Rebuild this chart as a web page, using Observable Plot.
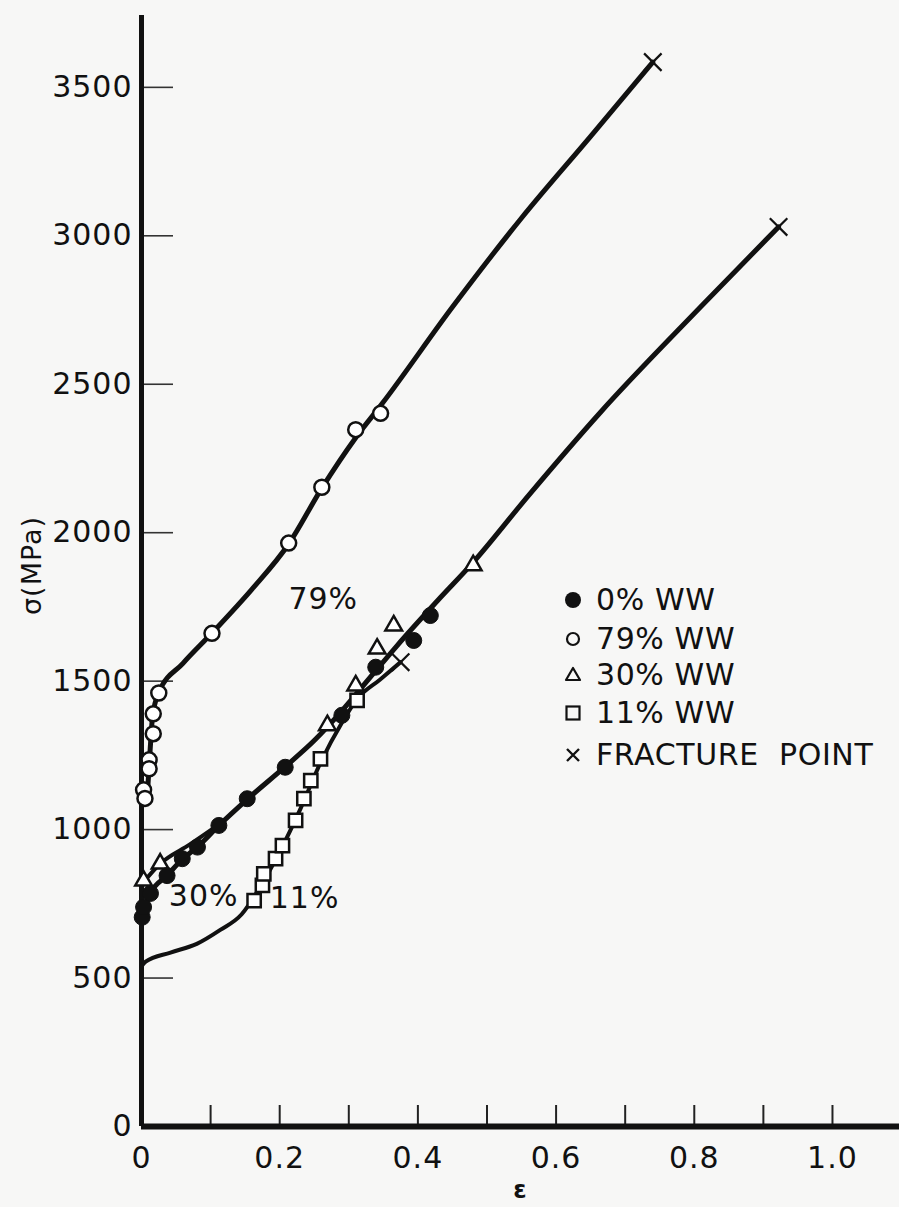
<!DOCTYPE html>
<html>
<head>
<meta charset="utf-8">
<script src="https://cdn.jsdelivr.net/npm/d3@7"></script>
<script src="https://cdn.jsdelivr.net/npm/@observablehq/plot@0.6"></script>
<style>
  html, body { margin: 0; padding: 0; background: #f7f7f6; }
  #wrap { position: relative; width: 899px; height: 1207px; overflow: hidden;
          font-family: "DejaVu Sans", sans-serif; color: #111; }
  #wrap > svg { position: absolute; left: 0; top: 0; }
  .row { position: absolute; height: 36px; line-height: 36px; font-size: 30px;
         white-space: pre; letter-spacing: 0.6px; color: #111; }
  .row svg { position: absolute; top: 8px; }
</style>
</head>
<body>
<div id="wrap"></div>
<script>
// ---------- axis ticks / labels ----------
const xTicks = [0.1, 0.2, 0.3, 0.4, 0.5, 0.6, 0.7, 0.8, 0.9, 1.0];
const xLabelTicks = [0, 0.2, 0.4, 0.6, 0.8, 1.0];
const xTickLabels = ["0", "0.2", "0.4", "0.6", "0.8", "1.0"];
const yTicks = [500, 1000, 1500, 2000, 2500, 3000, 3500];
const yLabelTicks = [0, 500, 1000, 1500, 2000, 2500, 3000, 3500];
const yTickLabels = ["0", "500", "1000", "1500", "2000", "2500", "3000", "3500"];

// ---------- measured points ----------
// 0% WW (filled circles)
const ww0Eps = [0.001, 0.003, 0.013, 0.037, 0.059, 0.081, 0.112, 0.153, 0.208, 0.29, 0.339, 0.394, 0.418];
const ww0Sig = [705, 739, 785, 845, 902, 941, 1014, 1104, 1210, 1385, 1547, 1637, 1721];
// 79% WW (open circles)
const ww79Eps = [0.003, 0.005, 0.011, 0.011, 0.017, 0.017, 0.025, 0.102, 0.213, 0.261, 0.310, 0.346];
const ww79Sig = [1134, 1105, 1235, 1205, 1323, 1390, 1460, 1661, 1965, 2153, 2347, 2402];
// 30% WW (triangles)
const ww30Eps = [0.003, 0.027, 0.269, 0.310, 0.341, 0.365, 0.48];
const ww30Sig = [828, 885, 1351, 1485, 1609, 1687, 1890];
// 11% WW (squares)
const ww11Eps = [0.163, 0.175, 0.177, 0.194, 0.204, 0.223, 0.235, 0.245, 0.259, 0.312];
const ww11Sig = [761, 812, 851, 902, 946, 1031, 1104, 1165, 1238, 1435];
// fracture points (x)
const fracEps = [0.375, 0.74, 0.922];
const fracSig = [1564, 3585, 3030];

// ---------- drawn curves ----------
const curve79Eps = [0.008, 0.012, 0.016, 0.025, 0.06, 0.102, 0.16, 0.213, 0.261, 0.31, 0.35, 0.45, 0.55, 0.65, 0.74];
const curve79Sig = [1100, 1250, 1380, 1462, 1560, 1662, 1810, 1962, 2150, 2320, 2440, 2760, 3060, 3335, 3585];
const curveMainEps = [0, 0.013, 0.037, 0.059, 0.081, 0.112, 0.153, 0.208, 0.25, 0.29, 0.33, 0.37, 0.428, 0.48, 0.56, 0.664, 0.809, 0.922];
const curveMainSig = [700, 785, 845, 900, 942, 1014, 1102, 1212, 1300, 1400, 1510, 1620, 1770, 1900, 2125, 2405, 2760, 3030];
const curve30Eps = [0, 0.027, 0.07, 0.12];
const curve30Sig = [815, 885, 950, 1030];
const curve11Eps = [0, 0.006, 0.042, 0.08, 0.114, 0.145, 0.17, 0.2, 0.23, 0.26, 0.29, 0.312, 0.345, 0.375];
const curve11Sig = [540, 555, 586, 615, 662, 715, 800, 925, 1070, 1230, 1360, 1440, 1505, 1564];

// curve annotations
const annText = ["79%", "30%", "11%"];
const annEps = [0.263, 0.090, 0.236];
const annSig = [1775, 775, 768];

// legend
const legendLabels = ["0% WW", "79% WW", "30% WW", "11% WW", "FRACTURE  POINT"];
const legendSymbols = ["dot", "circle", "triangle", "square", "times"];

const rows = (e, s) => e.map((v, i) => ({e: v, s: s[i]}));
const ink = "#111";

// layout
const W = 899, H = 1207, mL = 141, mR = 0, mT = 15, mB = 81;
const xMax = 1.097, yMax = 3742;
// tick lengths in px converted to data units
const yTickLenX = 32 * xMax / (W - mL - mR);
const xTickLenY = 21 * yMax / (H - mT - mB);

const chart = Plot.plot({
  width: W,
  height: H,
  marginLeft: mL,
  marginRight: mR,
  marginTop: mT,
  marginBottom: mB,
  x: {domain: [0, xMax], axis: null},
  y: {domain: [0, yMax], axis: null},
  style: {background: "transparent", fontFamily: "DejaVu Sans, sans-serif", color: ink, letterSpacing: "1px"},
  marks: [
    // tick marks
    Plot.ruleY(yTicks, {y: d => d, x1: 0, x2: yTickLenX, stroke: "#333", strokeWidth: 1.6}),
    Plot.ruleX(xTicks, {x: d => d, y1: 0, y2: xTickLenY, stroke: "#222", strokeWidth: 2}),
    // tick labels
    Plot.text(yLabelTicks, {x: 0, y: d => d, text: (d, i) => yTickLabels[i], textAnchor: "end", dx: -9, fontSize: 30, fill: ink}),
    Plot.text(xLabelTicks, {x: d => d, y: 0, text: (d, i) => xTickLabels[i], dy: 32, fontSize: 30, fill: ink}),
    // axis lines
    Plot.ruleX([0], {stroke: ink, strokeWidth: 5}),
    Plot.ruleY([0], {stroke: ink, strokeWidth: 6}),
    // axis titles
    Plot.text(["σ(MPa)"], {text: d => d, frameAnchor: "left", rotate: -90, dx: -109, dy: 44, fontSize: 27, fill: ink}),
    Plot.text(["ε"], {text: d => d, frameAnchor: "bottom", dy: 71, fontSize: 24, fontWeight: "bold", fill: ink}),
    // curves
    Plot.line(rows(curve11Eps, curve11Sig), {x: "e", y: "s", curve: "monotone-x", stroke: ink, strokeWidth: 4}),
    Plot.line(rows(curve30Eps, curve30Sig), {x: "e", y: "s", curve: "monotone-x", stroke: ink, strokeWidth: 4}),
    Plot.line(rows(curveMainEps, curveMainSig), {x: "e", y: "s", curve: "monotone-x", stroke: ink, strokeWidth: 5}),
    Plot.line(rows(curve79Eps, curve79Sig), {x: "e", y: "s", curve: "monotone-x", stroke: ink, strokeWidth: 5}),
    // markers
    Plot.dot(rows(ww11Eps, ww11Sig), {x: "e", y: "s", symbol: "square", r: 7.5, fill: "white", stroke: ink, strokeWidth: 2.5}),
    Plot.dot(rows(ww30Eps, ww30Sig), {x: "e", y: "s", symbol: "triangle", r: 6.2, fill: "white", stroke: ink, strokeWidth: 2.5}),
    Plot.dot(rows(ww0Eps, ww0Sig), {x: "e", y: "s", r: 8, fill: ink, stroke: ink, strokeWidth: 1}),
    Plot.dot(rows(ww79Eps, ww79Sig), {x: "e", y: "s", r: 7.5, fill: "white", stroke: ink, strokeWidth: 2.5}),
    Plot.dot(rows(fracEps, fracSig), {x: "e", y: "s", symbol: "times", r: 8, stroke: ink, strokeWidth: 2.2}),
    // annotations
    Plot.text(rows(annEps, annSig).map((d, i) => ({...d, t: annText[i]})),
              {x: "e", y: "s", text: "t", fontSize: 30, fill: ink})
  ]
});

const wrap = document.getElementById("wrap");
wrap.appendChild(chart);

// legend (HTML overlay)
const symbolSvg = {
  dot: '<circle cx="10" cy="10" r="8" fill="#111"/>',
  circle: '<circle cx="10" cy="10" r="6" fill="none" stroke="#111" stroke-width="2.2"/>',
  triangle: '<path d="M10,3 L17,15 L3,15 Z" fill="none" stroke="#111" stroke-width="2.2" stroke-linejoin="round"/>',
  square: '<rect x="3.5" y="3.5" width="13" height="13" fill="none" stroke="#111" stroke-width="2.2"/>',
  times: '<path d="M4,4 L16,16 M16,4 L4,16" stroke="#111" stroke-width="2.4"/>'
};
const rowCenters = [600, 639, 675, 713, 755];
legendLabels.forEach((lab, i) => {
  const row = document.createElement("div");
  row.className = "row";
  row.style.left = "563px";
  row.style.top = (rowCenters[i] - 18) + "px";
  row.innerHTML = '<svg width="20" height="20" viewBox="0 0 20 20" style="left:0">' + symbolSvg[legendSymbols[i]] +
                  '</svg><span style="margin-left:33px">' + lab + '</span>';
  wrap.appendChild(row);
});
</script>
</body>
</html>
